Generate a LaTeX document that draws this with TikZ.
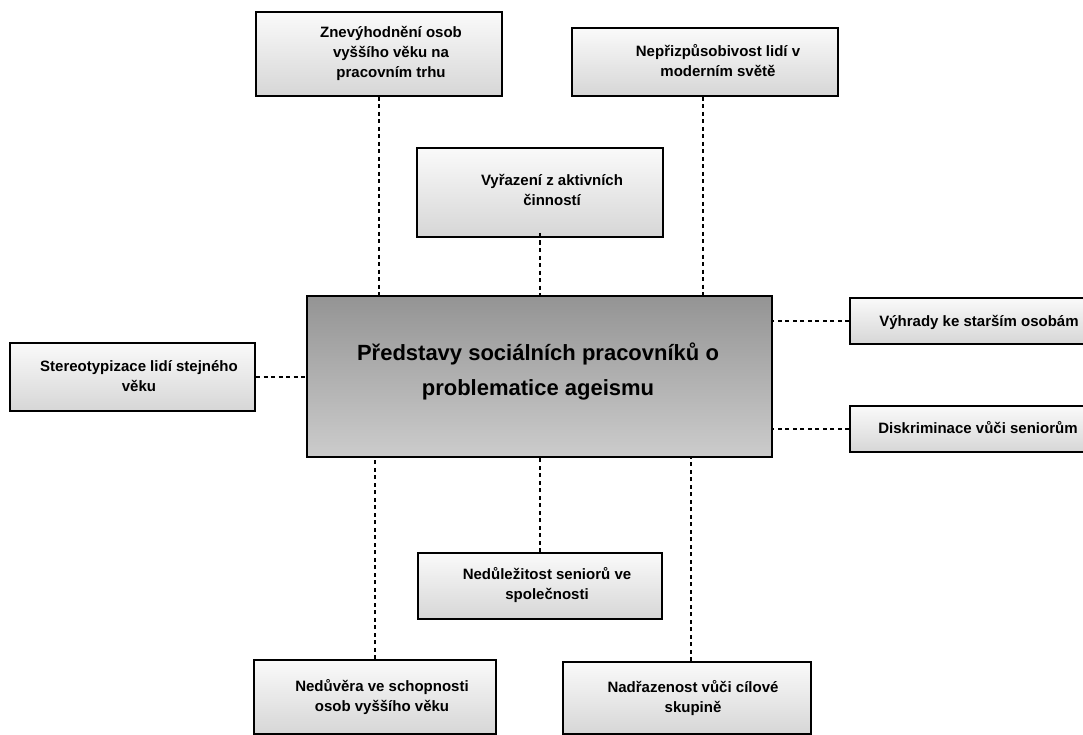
\documentclass[tikz,border=0pt]{standalone}
\usepackage{fontspec}
\setmainfont{Liberation Sans}
\begin{document}
\begin{tikzpicture}[x=1pt,y=-1pt,
  box/.style={draw=black, line width=2pt, rectangle, inner sep=0pt,
    top color=black!2, bottom color=black!16},
  mainbox/.style={draw=black, line width=2pt, rectangle, inner sep=0pt,
    top color=black!42, bottom color=black!20},
  txt/.style={align=center, inner sep=0pt, font=\fontsize{15}{20}\selectfont\bfseries},
  maintxt/.style={align=center, inner sep=0pt, font=\fontsize{22}{35}\selectfont\bfseries},
  conn/.style={line width=2pt, dash pattern=on 4pt off 3.5pt}]
\useasboundingbox (0,0) rectangle (1083,735);
\fill[white] (0,0) rectangle (1083,735);

% boxes
\node[mainbox, minimum width=465pt, minimum height=161pt] (main) at (539.5,376.5) {};
\node[box, minimum width=246pt, minimum height=84pt] (zn) at (379,54) {};
\node[box, minimum width=266pt, minimum height=68pt] (nep) at (705,62) {};
\node[box, minimum width=246pt, minimum height=89pt] (vyr) at (540,192.5) {};
\node[box, minimum width=245pt, minimum height=68pt] (st) at (132.5,377) {};
\node[box, minimum width=250pt, minimum height=46pt] (vyh) at (975,321) {};
\node[box, minimum width=250pt, minimum height=46pt] (dis) at (975,429) {};
\node[box, minimum width=244pt, minimum height=66pt] (nedul) at (540,586) {};
\node[box, minimum width=242pt, minimum height=74pt] (neduv) at (375,697) {};
\node[box, minimum width=248pt, minimum height=72pt] (nadr) at (687,698) {};

% texts
\node[maintxt] (main-t) at (538,371) {Představy sociálních pracovníků o\\problematice ageismu};
\node[txt] (zn-t) at (391,53) {Znevýhodnění osob\\vyššího věku na\\pracovním trhu};
\node[txt] (nep-t) at (718,61) {Nepřizpůsobivost lidí v\\moderním světě};
\node[txt] (vyr-t) at (552,190) {Vyřazení z aktivních\\činností};
\node[txt] (st-t) at (139,376) {Stereotypizace lidí stejného\\věku};
\node[txt] (vyh-t) at (979,322) {Výhrady ke starším osobám};
\node[txt] (dis-t) at (978,428) {Diskriminace vůči seniorům};
\node[txt] (nedul-t) at (547,585) {Nedůležitost seniorů ve\\společnosti};
\node[txt] (neduv-t) at (382,697) {Nedůvěra ve schopnosti\\osob vyššího věku};
\node[txt] (nadr-t) at (693,698) {Nadřazenost vůči cílové\\skupině};

% connectors
\draw[conn] (zn.south) -- (zn.south |- main.north);
\draw[conn] ([yshift=5pt]vyr.south) -- (vyr.south |- main.north);
\draw[conn] ([xshift=-2pt]nep.south) -- ([xshift=-2pt]nep.south |- main.north);
\draw[conn] (st.east) -- (st.east -| main.west);
\draw[conn] (vyh.west) -- (vyh.west -| main.east);
\draw[conn] (dis.west) -- (dis.west -| main.east);
\draw[conn] (nedul.north) -- (nedul.north |- main.south);
\draw[conn] (neduv.north) -- (neduv.north |- main.south);
\draw[conn] ([xshift=4pt]nadr.north) -- ([xshift=4pt]nadr.north |- main.south);
\end{tikzpicture}
\end{document}
